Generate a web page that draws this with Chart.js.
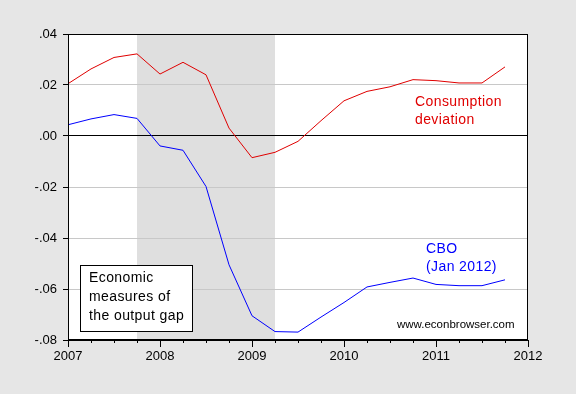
<!DOCTYPE html>
<html>
<head>
<meta charset="utf-8">
<script src="https://cdn.jsdelivr.net/npm/chart.js@4"></script>
<style>
  html, body { margin: 0; padding: 0; background: #e6e6e6; }
  #wrap { width: 576px; height: 394px; }
</style>
</head>
<body>
<div id="wrap"><canvas id="c" width="576" height="394"></canvas></div>
<script>
// Quarterly dates 2007Q1 .. 2011Q4
const quarters = [2007.00, 2007.25, 2007.50, 2007.75, 2008.00, 2008.25, 2008.50, 2008.75,
                  2009.00, 2009.25, 2009.50, 2009.75, 2010.00, 2010.25, 2010.50, 2010.75,
                  2011.00, 2011.25, 2011.50, 2011.75];
const consumptionDeviation = [0.0205, 0.0263, 0.0308, 0.0322, 0.0243, 0.0289, 0.0240, 0.0031,
                              -0.0085, -0.0064, -0.0021, 0.0060, 0.0138, 0.0175, 0.0193, 0.0221,
                              0.0217, 0.0208, 0.0208, 0.0271];
const cboGap = [0.0044, 0.0067, 0.0084, 0.0069, -0.0039, -0.0056, -0.0198, -0.0505,
                -0.0705, -0.0767, -0.0769, -0.0710, -0.0653, -0.0592, -0.0574, -0.0557,
                -0.0582, -0.0587, -0.0587, -0.0564];
const recession = [2007.75, 2009.25];
const yearTicks = [2007, 2008, 2009, 2010, 2011, 2012];
const yTickValues = [-0.08, -0.06, -0.04, -0.02, 0.00, 0.02, 0.04];

const FONT = '"Liberation Sans", Arial, sans-serif';

const bgPlugin = {
  id: 'bg',
  beforeDraw(chart) {
    const ctx = chart.ctx, a = chart.chartArea, x = chart.scales.x;
    ctx.save();
    ctx.fillStyle = '#e6e6e6';
    ctx.fillRect(0, 0, chart.width, chart.height);
    ctx.fillStyle = '#ffffff';
    ctx.fillRect(a.left, a.top, a.right - a.left, a.bottom - a.top);
    const x0 = x.getPixelForValue(recession[0]);
    const x1 = x.getPixelForValue(recession[1]);
    ctx.fillStyle = '#dfdfdf';
    ctx.fillRect(x0, a.top, x1 - x0, a.bottom - a.top);
    ctx.restore();
  },
  afterDraw(chart) {
    const ctx = chart.ctx, a = chart.chartArea, x = chart.scales.x;
    ctx.save();
    // frame
    ctx.strokeStyle = '#000';
    ctx.lineWidth = 1;
    ctx.strokeRect(Math.round(a.left) + 0.5, Math.round(a.top) + 0.5,
                   Math.round(a.right - a.left) - 1, Math.round(a.bottom - a.top) - 1);
    // x ticks (quarterly minor, yearly major)
    ctx.beginPath();
    x.ticks.forEach(t => {
      const px = Math.round(x.getPixelForValue(t.value)) + 0.5;
      const major = Math.abs(t.value - Math.round(t.value)) < 1e-9;
      ctx.moveTo(px, a.bottom);
      ctx.lineTo(px, a.bottom + (major ? 7 : 3));
    });
    ctx.stroke();
    // annotations
    ctx.textBaseline = 'middle';
    ctx.textAlign = 'left';
    ctx.font = '14px ' + FONT;
    try { ctx.letterSpacing = '0.4px'; } catch (e) {}
    ctx.fillStyle = '#e00000';
    ctx.fillText('Consumption', 415, 102);
    ctx.fillText('deviation', 415, 120);
    ctx.fillStyle = '#0000ff';
    ctx.fillText('CBO', 426, 249);
    ctx.fillText('(Jan 2012)', 426, 267);
    // box
    ctx.fillStyle = '#ffffff';
    ctx.fillRect(81, 265, 111, 66);
    ctx.strokeStyle = '#000';
    ctx.strokeRect(80.5, 265.5, 112, 66);
    ctx.fillStyle = '#000';
    ctx.fillText('Economic', 89, 278);
    ctx.fillText('measures of', 89, 297);
    ctx.fillText('the output gap', 89, 316);
    try { ctx.letterSpacing = '0px'; } catch (e) {}
    ctx.font = '11.5px ' + FONT;
    ctx.fillText('www.econbrowser.com', 397, 325);
    ctx.restore();
  }
};

new Chart(document.getElementById('c'), {
  type: 'line',
  data: {
    datasets: [
      {
        label: 'Consumption deviation',
        data: quarters.map((q, i) => ({ x: q, y: consumptionDeviation[i] })),
        borderColor: '#e00000',
        borderWidth: 1,
        pointRadius: 0,
        tension: 0,
        fill: false
      },
      {
        label: 'CBO (Jan 2012)',
        data: quarters.map((q, i) => ({ x: q, y: cboGap[i] })),
        borderColor: '#0000ff',
        borderWidth: 1,
        pointRadius: 0,
        tension: 0,
        fill: false
      }
    ]
  },
  options: {
    responsive: false,
    animation: false,
    devicePixelRatio: 1,
    layout: { padding: { left: 0, top: 34, right: 48, bottom: 0 } },
    plugins: { legend: { display: false }, tooltip: { enabled: false } },
    scales: {
      x: {
        type: 'linear',
        min: yearTicks[0],
        max: yearTicks[yearTicks.length - 1],
        afterFit(s) { s.height = 54; },
        border: { display: true, color: '#000', width: 1 },
        grid: { display: true, drawOnChartArea: false, drawTicks: false },
        ticks: {
          stepSize: 0.25,
          autoSkip: false,
          maxRotation: 0,
          padding: 9,
          color: '#000',
          font: { family: FONT, size: 13 },
          callback: v => yearTicks.includes(v) ? String(v) : ''
        }
      },
      y: {
        type: 'linear',
        min: yTickValues[0],
        max: yTickValues[yTickValues.length - 1],
        afterFit(s) { s.width = 68; },
        afterBuildTicks(s) { s.ticks = yTickValues.map(v => ({ value: v })); },
        border: { display: true, color: '#000', width: 1 },
        grid: {
          color: c => (c.tick && Math.abs(c.tick.value) < 1e-9) ? '#000' : '#c8c8c8',
          tickColor: '#000',
          tickLength: 5,
          lineWidth: 1
        },
        ticks: {
          padding: 6,
          color: '#000',
          font: { family: FONT, size: 13 },
          callback: v => {
            if (Math.abs(v) < 1e-9) return '.00';
            return v.toFixed(2).replace('0.', '.');
          }
        }
      }
    }
  },
  plugins: [bgPlugin]
});
</script>
</body>
</html>
